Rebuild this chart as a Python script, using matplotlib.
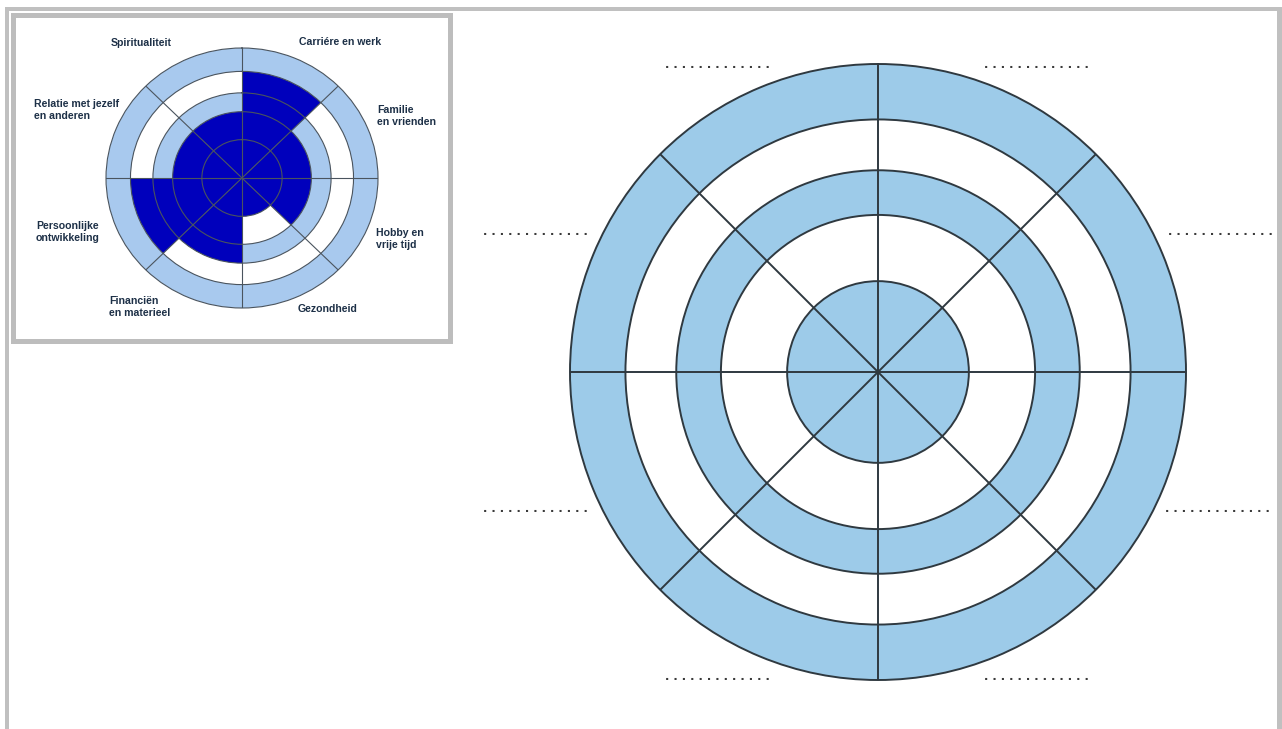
import numpy as np
import matplotlib.pyplot as plt
from matplotlib.patches import Rectangle

# example wheel (inset): life areas, clockwise from the top
categories = ["Carriére en werk", "Familie\nen vrienden", "Hobby en\nvrije tijd", "Gezondheid",
              "Financiën\nen materieel", "Persoonlijke\nontwikkeling",
              "Relatie met jezelf\nen anderen", "Spiritualiteit"]
scores = [4, 2, 2, 1, 3, 4, 2, 2]          # filled up to this ring
rings = [0, 0.295, 0.51, 0.655, 0.82, 1.0]  # ring edges as fraction of the radius
blank = ". " * 12 + "."                     # empty label lines on the big wheel

W, H = 1282, 729
light_main = "#9dcbe9"
light_small = "#a8c9ee"
dark_blue = "#0000bc"
text_col = "#1d3047"
frame_gray = "#c0c0c0"

fig = plt.figure(figsize=(W / 100, H / 100), dpi=100)
bg = fig.add_axes([0, 0, 1, 1])
bg.set_xlim(0, W)
bg.set_ylim(H, 0)
bg.axis("off")

# page frame (open at the bottom)
bg.add_patch(Rectangle((5, 7), W - 5, 4, color=frame_gray, lw=0))
bg.add_patch(Rectangle((5, 7), 4, H, color=frame_gray, lw=0))
bg.add_patch(Rectangle((1277, 7), 5, H, color=frame_gray, lw=0))
# inset box
bg.add_patch(Rectangle((12.5, 14.5), 437, 326, fc="white", ec="#bdbdbd", lw=3.6))


def wheel(ax, light, line_col, lw, fill=None):
    n = 8
    theta = np.deg2rad(np.arange(n) * 45 + 22.5)
    width = np.deg2rad(45)
    ax.set_theta_zero_location("N")
    ax.set_theta_direction(-1)
    for i in range(len(rings) - 1):
        col = light if i % 2 == 0 else "white"
        ax.bar(theta, rings[i + 1] - rings[i], width=width, bottom=rings[i],
               color=col, lw=0, align="center", zorder=1)
    if fill is not None:
        ax.bar(theta, [rings[s] for s in fill], width=width, bottom=0,
               color=dark_blue, lw=0, align="center", zorder=1.2)
    ax.set_ylim(0, 1)
    ax.set_xticks(np.deg2rad(np.arange(n) * 45))
    ax.set_xticklabels([])
    ax.set_yticks(rings[1:-1])
    ax.set_yticklabels([])
    ax.tick_params(length=0)
    ax.set_axisbelow(False)
    ax.grid(True, color=line_col, lw=lw)
    ax.spines["polar"].set_edgecolor(line_col)
    ax.spines["polar"].set_linewidth(lw)


# big empty wheel
cx, cy, r = 878, 372, 308
ax = fig.add_axes([(cx - r) / W, (H - cy - r) / H, 2 * r / W, 2 * r / H], projection="polar")
wheel(ax, light_main, "#2f3940", 1.4)

# small filled example (slightly squashed in the source image)
sx, sy, rx, ry = 242, 178, 136, 130
ax2 = fig.add_axes([(sx - rx) / W, (H - sy - ry) / H, 2 * rx / W, 2 * ry / H], projection="polar")
ax2.set_aspect("auto")
wheel(ax2, light_small, "#4a545e", 0.8, fill=scores)

# inset labels
lab_pos = [(340, 42, "center"), (377, 116, "left"), (376, 239, "left"), (328, 309, "center"),
           (109, 307, "left"), (36, 232, "left"), (34, 110, "left"), (141, 43, "center")]
for txt, (x, y, ha) in zip(categories, lab_pos):
    bg.text(x, y, txt, ha=ha, va="center", ma="left", fontsize=7.6, fontweight="bold",
            color=text_col, family="Liberation Sans", linespacing=1.15)

# dotted blanks round the big wheel
dot_pos = [(717, 66), (1036, 66), (535, 233), (1220, 233),
           (535, 510), (1217, 510), (717, 679), (1036, 679)]
for x, y in dot_pos:
    bg.text(x, y + 1.5, blank, ha="center", va="baseline", fontsize=8.2,
            fontweight="bold", color="#3a3a3a", family="DejaVu Sans")

fig.savefig("out.png", dpi=100)
